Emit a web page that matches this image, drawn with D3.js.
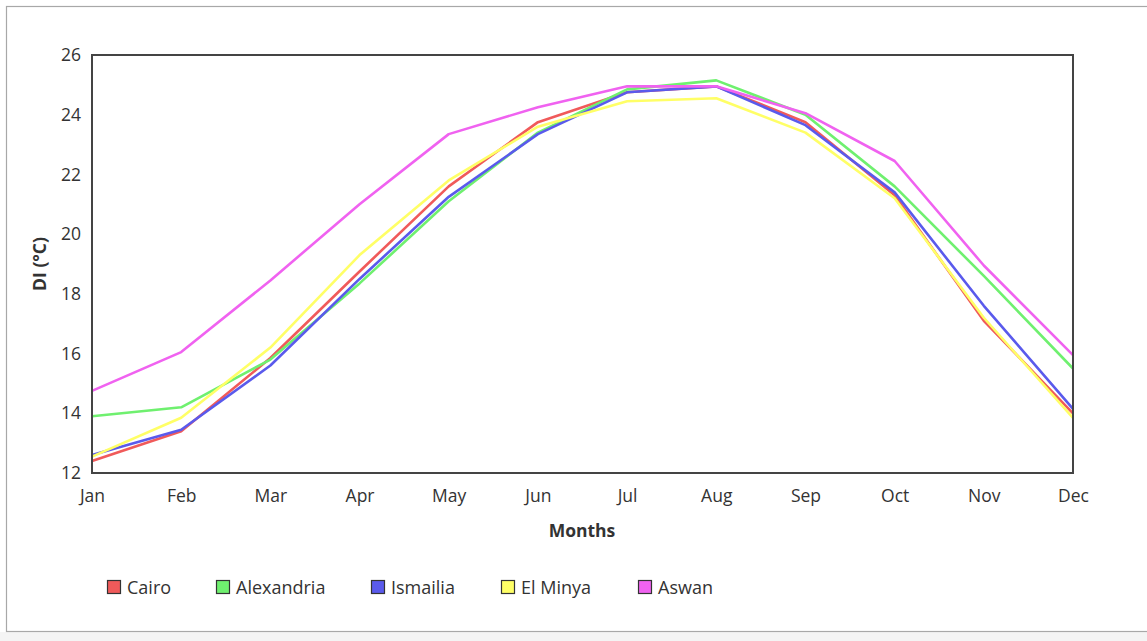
<!DOCTYPE html>
<html><head><meta charset="utf-8">
<script src="https://cdn.jsdelivr.net/npm/d3@7"></script>
<style>body{margin:0;background:#fff;}svg{display:block;font-family:"Open Sans",sans-serif;}</style>
</head><body>
<svg id="c" width="1147" height="641"></svg>
<script>
const months = ["Jan","Feb","Mar","Apr","May","Jun","Jul","Aug","Sep","Oct","Nov","Dec"];
const cairo      = [12.4, 13.4, 15.85, 18.75, 21.6, 23.75, 24.75, 24.95, 23.75, 21.3, 17.1, 14.0];
const alexandria = [13.9, 14.2, 15.8, 18.35, 21.1, 23.4, 24.85, 25.15, 24.0, 21.6, 18.6, 15.5];
const ismailia   = [12.6, 13.45, 15.6, 18.5, 21.25, 23.35, 24.75, 24.95, 23.65, 21.4, 17.6, 14.15];
const elMinya    = [12.55, 13.85, 16.2, 19.3, 21.8, 23.6, 24.45, 24.55, 23.4, 21.2, 17.2, 13.85];
const aswan      = [14.75, 16.05, 18.45, 21.0, 23.35, 24.25, 24.95, 24.95, 24.05, 22.45, 18.95, 15.95];
const seriesNames = ["Cairo","Alexandria","Ismailia","El Minya","Aswan"];
const yTicks = [12,14,16,18,20,22,24,26];

const colors = ["#f05a5a","#6ff06f","#5a5aec","#ffff66","#f062f0"];
const seriesData = [cairo, alexandria, ismailia, elMinya, aswan];

const svg = d3.select("#c");
const FS = 17.5;
// outer frame
svg.append("rect").attr("x",0).attr("y",632).attr("width",1147).attr("height",9).attr("fill","#f4f4f4");
svg.append("rect").attr("x",6.5).attr("y",6.5).attr("width",1200).attr("height",625).attr("fill","none").attr("stroke","#a8a8a8").attr("stroke-width",1.2);

const L=92, R=1073, T=55, B=473;
const x = d3.scalePoint().domain(months).range([L,R]);
const y = d3.scaleLinear().domain([12,26]).range([B,T]);

// y axis labels
const ya = svg.append("g").attr("transform",`translate(${L},0)`)
  .call(d3.axisLeft(y).tickValues(yTicks).tickSize(0).tickPadding(11).tickFormat(d3.format("d")));
ya.select(".domain").remove();
ya.selectAll("text").attr("font-size",FS).attr("fill","#333").attr("font-family","'Open Sans',sans-serif");

const xa = svg.append("g").attr("transform",`translate(0,${B})`)
  .call(d3.axisBottom(x).tickSize(0).tickPadding(17));
xa.select(".domain").remove();
xa.selectAll("text").attr("font-size",FS).attr("fill","#333").attr("font-family","'Open Sans',sans-serif");

// lines
const line = d3.line().x((d,i)=>x(months[i])).y(d=>y(d));
seriesData.forEach((s,k)=>{
  svg.append("path").datum(s).attr("d",line).attr("fill","none")
    .attr("stroke",colors[k]).attr("stroke-width",2.6).attr("stroke-linejoin","round");
});

// plot frame
svg.append("rect").attr("x",L).attr("y",T).attr("width",R-L).attr("height",B-T)
  .attr("fill","none").attr("stroke","#444").attr("stroke-width",2);

// axis titles
svg.append("text").attr("x",582).attr("y",537).attr("text-anchor","middle")
  .attr("font-size",FS).attr("font-weight","bold").attr("fill","#333").text("Months");
svg.append("text").attr("transform",`translate(46,${(T+B)/2}) rotate(-90)`).attr("text-anchor","middle")
  .attr("font-size",FS).attr("font-weight","bold").attr("fill","#333").text("DI (°C)");

// legend
const legX = [107,216,371,501,638];
seriesNames.forEach((n,k)=>{
  svg.append("rect").attr("x",legX[k]+0.5).attr("y",580.5).attr("width",13).attr("height",13)
    .attr("fill",colors[k]).attr("stroke","#333").attr("stroke-width",1.2);
  svg.append("text").attr("x",legX[k]+20).attr("y",594).attr("font-size",18).attr("fill","#333").text(n);
});
</script>
</body></html>
